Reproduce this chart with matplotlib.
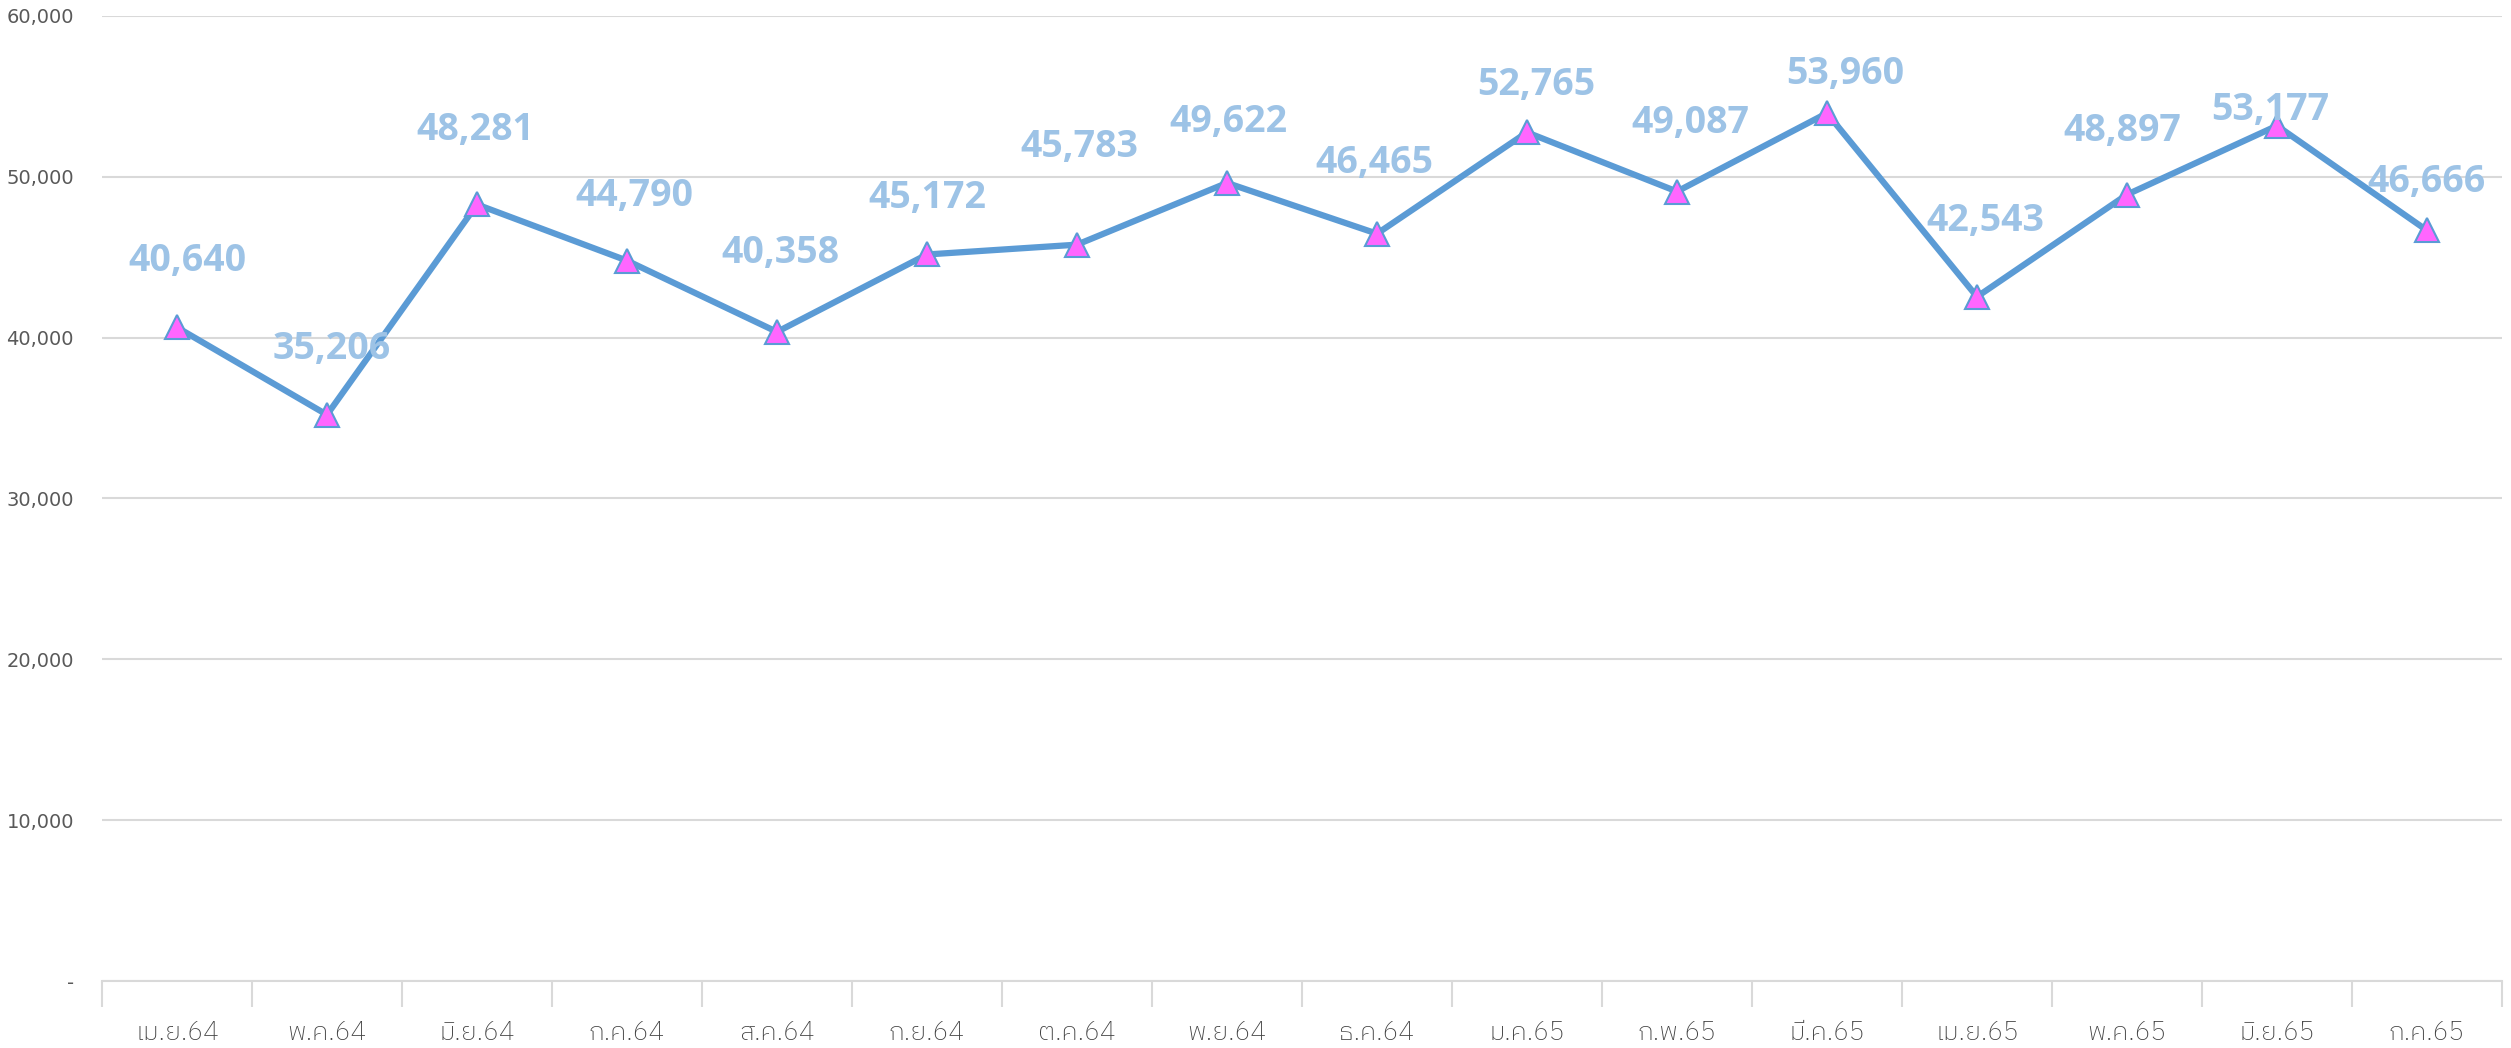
import matplotlib
matplotlib.use("Agg")
from matplotlib import pyplot as plt
from matplotlib.ticker import FuncFormatter
import numpy as np

months = ['เม.ย.64', 'พ.ค.64', 'มิ.ย.64', 'ก.ค.64', 'ส.ค.64', 'ก.ย.64', 'ต.ค.64', 'พ.ย.64',
          'ธ.ค.64', 'ม.ค.65', 'ก.พ.65', 'มี.ค.65', 'เม.ย.65', 'พ.ค.65', 'มิ.ย.65', 'ก.ค.65']
values = [40640, 35206, 48281, 44790, 40358, 45172, 45783, 49622,
          46465, 52765, 49087, 53960, 42543, 48897, 53177, 46666]

# label offsets in pixels (dx, dy) from the point, as placed in the original
label_offsets = [(10, 66), (5, 66), (-2, 74), (7, 65), (3, 79), (0, 56), (2, 98), (1, 61),
                 (-3, 71), (9, 47), (13, 69), (18, 39), (8, 76), (-5, 64), (-7, 16), (0, 48)]

DPI = 100
W, H = 2511, 1048
px = 72.0 / DPI  # points per pixel

fig = plt.figure(figsize=(W / DPI, H / DPI), dpi=DPI)
ax = fig.add_axes([102 / W, 1 - 981 / H, 2400 / W, (981 - 16) / H])

x = np.arange(len(values))
ax.plot(x, values, color='#5B9BD5', linewidth=4.5, marker='^', markersize=17,
        markerfacecolor='#FF66FF', markeredgecolor='#5B9BD5', markeredgewidth=1.5, zorder=3)

for i, v in enumerate(values):
    dx, dy = label_offsets[i]
    ax.annotate(f'{v:,}', (i, v), xytext=(dx * px, dy * px), textcoords='offset points',
                ha='center', va='center', fontsize=27, fontweight='bold',
                color='#9DC3E6', family=['Open Sans', 'DejaVu Sans'], zorder=4)

ax.set_xlim(-0.5, len(values) - 0.5)
ax.set_ylim(0, 60000)
ax.set_yticks(np.arange(0, 60001, 10000))
ax.yaxis.set_major_formatter(FuncFormatter(lambda v, p: '-' if v == 0 else f'{int(v):,}'))
ax.grid(axis='y', color='#D9D9D9', linewidth=1.5)
ax.set_axisbelow(True)

# category boundaries as major ticks, labels on minor ticks at the centres
ax.set_xticks(np.arange(-0.5, len(values), 1.0))
ax.set_xticklabels([])
ax.set_xticks(x, minor=True)
ax.set_xticklabels(months, minor=True)
ax.tick_params(axis='x', which='major', length=19, color='#D9D9D9', width=1.5)
ax.tick_params(axis='x', which='minor', length=0, pad=51 * px, labelsize=19, labelcolor='#404040')
ax.tick_params(axis='y', length=0, pad=28 * px, labelsize=14, labelcolor='#595959')
for lab in ax.get_xticklabels(minor=True):
    lab.set_family(['IBM Plex Sans Thai', 'DejaVu Sans'])
    lab.set_fontweight('light')
    lab.set_va('center')

for s in ['top', 'right', 'left']:
    ax.spines[s].set_visible(False)
ax.spines['bottom'].set_color('#D9D9D9')
ax.spines['bottom'].set_linewidth(1.5)

fig.savefig('out.png', dpi=DPI)
